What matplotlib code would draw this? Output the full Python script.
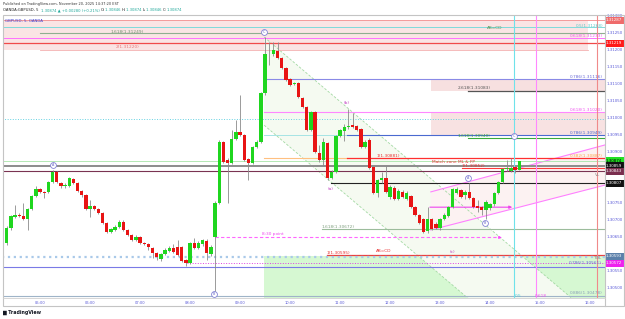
import matplotlib
matplotlib.use("Agg")
import numpy as np
import matplotlib.pyplot as plt
import matplotlib.transforms as mtransforms
from matplotlib.patches import Rectangle, Polygon

# GBPUSD 5 minute bars, 04:15 .. 14:35 (bar index 0 = 04:15)
opens = [1.30635, 1.30632, 1.30676, 1.30708, 1.30714, 1.30711, 1.30702, 1.30732, 1.30770, 1.30790,
         1.30782, 1.30782, 1.30811, 1.30840, 1.30808, 1.30799, 1.30799, 1.30820, 1.30808, 1.30784,
         1.30773, 1.30732, 1.30740, 1.30732, 1.30720, 1.30690, 1.30664, 1.30670, 1.30679, 1.30693,
         1.30670, 1.30655, 1.30640, 1.30649, 1.30632, 1.30629, 1.30617, 1.30602, 1.30585, 1.30599,
         1.30608, 1.30617, 1.30620, 1.30620, 1.30582, 1.30573, 1.30632, 1.30617, 1.30629, 1.30637,
         1.30599, 1.30648, 1.30749, 1.30929, 1.30876, 1.30867, 1.30937, 1.30958, 1.30949, 1.30879,
         1.30867, 1.30914, 1.30929, 1.31073, 1.31187, 1.31187, 1.31196, 1.31176, 1.31146, 1.31114,
         1.31099, 1.31102, 1.31058, 1.31031, 1.30964, 1.31017, 1.30896, 1.30876, 1.30926, 1.30823,
         1.30840, 1.30946, 1.30961, 1.30973, 1.30979, 1.30976, 1.30967, 1.30914, 1.30934, 1.30855,
         1.30779, 1.30817, 1.30823, 1.30767, 1.30793, 1.30761, 1.30782, 1.30761, 1.30770, 1.30737,
         1.30714, 1.30702, 1.30667, 1.30702, 1.30687, 1.30676, 1.30702, 1.30711, 1.30737, 1.30779,
         1.30787, 1.30773, 1.30782, 1.30764, 1.30740, 1.30737, 1.30729, 1.30734, 1.30746, 1.30779,
         1.30811, 1.30849, 1.30843, 1.30855, 1.30846]
highs = [1.30641, 1.30682, 1.30714, 1.30743, 1.30720, 1.30749, 1.30735, 1.30773, 1.30799, 1.30793,
         1.30784, 1.30814, 1.30846, 1.30843, 1.30811, 1.30808, 1.30826, 1.30823, 1.30811, 1.30787,
         1.30776, 1.30758, 1.30743, 1.30735, 1.30723, 1.30693, 1.30676, 1.30685, 1.30699, 1.30699,
         1.30673, 1.30658, 1.30655, 1.30652, 1.30635, 1.30632, 1.30620, 1.30605, 1.30602, 1.30617,
         1.30623, 1.30629, 1.30640, 1.30623, 1.30585, 1.30635, 1.30646, 1.30638, 1.30643, 1.30643,
         1.30626, 1.30755, 1.30934, 1.30931, 1.30882, 1.30964, 1.30993, 1.31067, 1.30952, 1.30882,
         1.30917, 1.30934, 1.31076, 1.31237, 1.31223, 1.31223, 1.31223, 1.31178, 1.31149, 1.31117,
         1.31105, 1.31105, 1.31061, 1.31034, 1.31020, 1.31020, 1.30920, 1.30940, 1.30929, 1.30846,
         1.30949, 1.30967, 1.30981, 1.31026, 1.31014, 1.30979, 1.30970, 1.30934, 1.30940, 1.30858,
         1.30820, 1.30840, 1.30858, 1.30802, 1.30799, 1.30790, 1.30787, 1.30784, 1.30773, 1.30740,
         1.30717, 1.30705, 1.30737, 1.30705, 1.30693, 1.30705, 1.30720, 1.30740, 1.30793, 1.30796,
         1.30790, 1.30787, 1.30808, 1.30767, 1.30758, 1.30740, 1.30758, 1.30749, 1.30782, 1.30814,
         1.30852, 1.30876, 1.30882, 1.30858, 1.30874]
lows = [1.30629, 1.30626, 1.30670, 1.30705, 1.30708, 1.30699, 1.30670, 1.30729, 1.30767, 1.30779,
        1.30764, 1.30779, 1.30808, 1.30808, 1.30793, 1.30793, 1.30796, 1.30805, 1.30782, 1.30767,
        1.30729, 1.30708, 1.30729, 1.30717, 1.30687, 1.30661, 1.30661, 1.30667, 1.30676, 1.30667,
        1.30652, 1.30637, 1.30637, 1.30629, 1.30626, 1.30611, 1.30588, 1.30582, 1.30579, 1.30596,
        1.30605, 1.30602, 1.30593, 1.30576, 1.30564, 1.30570, 1.30614, 1.30614, 1.30623, 1.30582,
        1.30593, 1.30485, 1.30746, 1.30867, 1.30749, 1.30864, 1.30934, 1.30946, 1.30873, 1.30817,
        1.30864, 1.30911, 1.30926, 1.31067, 1.31155, 1.31181, 1.31173, 1.31143, 1.31108, 1.31093,
        1.31096, 1.31058, 1.31028, 1.30961, 1.30961, 1.30896, 1.30870, 1.30858, 1.30817, 1.30820,
        1.30837, 1.30943, 1.30931, 1.30967, 1.30970, 1.30961, 1.30911, 1.30911, 1.30849, 1.30776,
        1.30767, 1.30808, 1.30779, 1.30761, 1.30758, 1.30758, 1.30764, 1.30758, 1.30734, 1.30711,
        1.30687, 1.30661, 1.30661, 1.30670, 1.30673, 1.30670, 1.30699, 1.30708, 1.30734, 1.30776,
        1.30764, 1.30761, 1.30761, 1.30734, 1.30723, 1.30714, 1.30702, 1.30729, 1.30740, 1.30776,
        1.30808, 1.30843, 1.30840, 1.30837, 1.30846]
closes = [1.30630, 1.30676, 1.30711, 1.30714, 1.30712, 1.30702, 1.30732, 1.30770, 1.30790, 1.30782,
          1.30779, 1.30811, 1.30840, 1.30811, 1.30799, 1.30801, 1.30823, 1.30808, 1.30784, 1.30773,
          1.30732, 1.30740, 1.30732, 1.30720, 1.30690, 1.30664, 1.30673, 1.30679, 1.30693, 1.30670,
          1.30655, 1.30640, 1.30649, 1.30632, 1.30629, 1.30620, 1.30602, 1.30590, 1.30599, 1.30611,
          1.30617, 1.30605, 1.30596, 1.30579, 1.30573, 1.30632, 1.30617, 1.30632, 1.30640, 1.30602,
          1.30620, 1.30749, 1.30929, 1.30870, 1.30867, 1.30937, 1.30958, 1.30949, 1.30876, 1.30867,
          1.30914, 1.30929, 1.31073, 1.31187, 1.31186, 1.31199, 1.31176, 1.31146, 1.31111, 1.31096,
          1.31102, 1.31061, 1.31031, 1.30964, 1.31017, 1.30899, 1.30876, 1.30929, 1.30823, 1.30840,
          1.30946, 1.30964, 1.30973, 1.30976, 1.30973, 1.30964, 1.30914, 1.30929, 1.30852, 1.30779,
          1.30817, 1.30823, 1.30782, 1.30796, 1.30761, 1.30784, 1.30767, 1.30779, 1.30737, 1.30714,
          1.30690, 1.30664, 1.30702, 1.30673, 1.30676, 1.30702, 1.30714, 1.30737, 1.30790, 1.30790,
          1.30767, 1.30782, 1.30764, 1.30737, 1.30734, 1.30729, 1.30752, 1.30746, 1.30779, 1.30811,
          1.30849, 1.30852, 1.30852, 1.30846, 1.30874]

hour_labels = ["05:00", "06:00", "07:00", "08:00", "09:00", "10:00",
               "11:00", "12:00", "13:00", "14:00", "15:00", "16:00"]
bar_of_0500 = 9
bars_per_hour = 12
price_labels = [1.30500, 1.30550, 1.30650, 1.30700, 1.30750, 1.30900, 1.30950,
                1.31000, 1.31050, 1.31100, 1.31150, 1.31200, 1.31250, 1.31300]

# horizontal levels drawn on the chart: (price, start bar, end bar, colour, style, width)
levels = [
    (1.31287, 0, 145, "#f39a9a", "-", 0.7),
    (1.31266, 0, 145, "#7fdada", "-", 0.7),
    (1.31248, 9, 145, "#8fae8f", "-", 0.8),
    (1.31233, 0, 145, "#ff70ff", "-", 0.7),
    (1.31219, 0, 145, "#f04a4a", "-", 0.9),
    (1.31200, 9, 140.5, "#f4b0b0", "-", 0.6),
    (1.31113, 62.8, 145, "#8a8ae6", "-", 0.8),
    (1.31079, 111.7, 145, "#555555", "-", 0.9),
    (1.31017, 62.8, 145, "#ff88ff", "-", 0.8),
    (1.30995, 0, 145, "#66d2e2", ":", 0.7),
    (1.30949, 62.8, 82.7, "#a6e4e4", "-", 0.7),
    (1.30949, 82.7, 145, "#4a6ad0", "-", 0.8),
    (1.30939, 111.7, 145, "#3aaa3a", "-", 0.8),
    (1.30881, 62.8, 82.7, "#ffc080", "-", 0.8),
    (1.30881, 82.7, 145, "#ff3030", "-", 0.9),
    (1.30874, 0, 145, "#a8e4a8", "-", 0.6),
    (1.30859, 0, 145, "#8c8c8c", "-", 1.4),
    (1.30851, 110.3, 145, "#ff3a3a", "-", 0.8),
    (1.30843, 0, 145, "#7a3352", "-", 0.8),
    (1.30807, 78.8, 145, "#222222", "-", 0.8),
    (1.30673, 76.7, 145, "#9cbc9c", "-", 0.8),
    (1.30596, 77.9, 145, "#e84040", "-", 0.9),
    (1.30592, 0, 145, "#a9c9e9", ":", 1.6),
    (1.30572, 44.3, 145, "#e040e0", ":", 0.7),
    (1.30562, 0, 145, "#7a7ae6", "-", 0.8),
    (1.30476, 0, 145, "#9fb4c8", "-", 0.8),
]
vertical_bars = [(122.8, "#6fe2ea"), (128.0, "#ff88ff"), (142.75, "#f08a8a")]

# shaded zones: (bar0, bar1, price0, price1, colour)
zones = [
    (0, 140.5, 1.31200, 1.31287, "#fae4e4"),
    (102.8, 145, 1.31079, 1.31113, "#f7e0e0"),
    (102.8, 145, 1.30946, 1.31017, "#f8e2e2"),
    (62.8, 145, 1.30440, 1.30593, "#d6f8d2"),
]

# falling channel from point C, rising channel from the (c) low
fall_start = 62.8
fall_upper, fall_lower = 1.31237, 1.30978
fall_slope = -0.000104
rise_x = (102.8, 144.6)
rise_upper = (1.30782, 1.30920)
rise_lower = (1.30670, 1.30802)

W, H = 625, 319
fig = plt.figure(figsize=(W / 100, H / 100), dpi=100)
fig.patch.set_facecolor("white")
ax = fig.add_axes([3 / W, 1 - 298 / H, 602 / W, 283 / H])
ax.set_xlim(0.12, 144.6)
ax.set_ylim(1.30470, 1.31302)
ax.set_facecolor("white")
ax.set_xticks([])
ax.set_yticks([])
for s in ax.spines.values():
    s.set_visible(False)

for x0, x1, p0, p1, col in zones:
    ax.add_patch(Rectangle((x0, p0), x1 - x0, p1 - p0, facecolor=col, edgecolor="none", zorder=0))

# falling channel
xe = 160
fu = [fall_upper, fall_upper + fall_slope * (xe - fall_start)]
fl = [fall_lower, fall_lower + fall_slope * (xe - fall_start)]
ax.add_patch(Polygon([(fall_start, fu[0]), (xe, fu[1]), (xe, fl[1]), (fall_start, fl[0])],
                     closed=True, facecolor="#f5faf1", edgecolor="none", zorder=0.5))
ax.plot([fall_start, xe], fu, color="#a3d9a3", lw=0.6, ls=(0, (3, 2)), zorder=1)
ax.plot([fall_start, xe], fl, color="#a3d9a3", lw=0.6, ls=(0, (3, 2)), zorder=1)

# rising channel
ax.add_patch(Polygon([(rise_x[0], rise_upper[0]), (rise_x[1], rise_upper[1]),
                      (rise_x[1], rise_lower[1]), (rise_x[0], rise_lower[0])],
                     closed=True, facecolor="#fcf2f2", edgecolor="none", zorder=0.6))
ax.plot(rise_x, rise_upper, color="#ff80ff", lw=0.8, zorder=1.5)
ax.plot(rise_x, rise_lower, color="#ff80ff", lw=0.8, zorder=1.5)

for p, x0, x1, col, ls, lw in levels:
    ax.plot([x0, x1], [p, p], color=col, ls=ls, lw=lw, zorder=2)
for xv, col in vertical_bars:
    ax.axvline(xv, color=col, lw=0.8, zorder=2)

# 8:30 point dashed line and magenta arrow
ax.plot([51.0, 119.0], [1.30648, 1.30648], color="#ff66ff", lw=0.8, ls=(0, (3, 2)), zorder=2)
ax.annotate("", xy=(120.5, 1.30648), xytext=(118.5, 1.30648),
            arrowprops=dict(arrowstyle="-|>", color="#ff44ff", lw=0.6, mutation_scale=4), zorder=2)
ax.annotate("", xy=(123.0, 1.30737), xytext=(101.9, 1.30737),
            arrowprops=dict(arrowstyle="-|>", color="#ee44ee", lw=0.8, mutation_scale=4), zorder=2)

# candles
o = np.array(opens)
h = np.array(highs)
l = np.array(lows)
c = np.array(closes)
idx = np.arange(len(o))
up = c >= o
ax.vlines(idx, l, h, color="#8a8a8a", lw=0.6, zorder=3)
body = np.maximum(np.abs(c - o), 0.000025)
ax.bar(idx[up], body[up], bottom=o[up], width=0.8, color="#1fd61f", lw=0, zorder=4)
ax.bar(idx[~up], body[~up], bottom=c[~up], width=0.8, color="#e81414", lw=0, zorder=4)

# wave markers
for lab, x, p in [("A", 12.05, 1.30861), ("A", 111.8, 1.30822), ("B", 50.8, 1.30482),
                  ("B", 115.8, 1.30690), ("C", 62.8, 1.31253), ("C", 122.8, 1.30946)]:
    ax.plot(x, p, "o", ms=4.2, mfc="white", mec="#8383d6", mew=0.6, zorder=6)
    ax.text(x, p, lab, fontsize=2.4, color="#6666c8", ha="center", va="center", zorder=7)

fs = 3.1
labels = [
    ("1.618(1.31249)", 29.8, 1.31252, "#6f8f6f", "center"),
    ("2(1.31220)", 30.1, 1.31207, "#e87878", "center"),
    ("AB=CD", 118.2, 1.31263, "#5a9a5a", "center"),
    ("0.5(1.31268)", 144.1, 1.31270, "#5cc8c8", "right"),
    ("0.618(1.31233)", 144.1, 1.31240, "#ee55ee", "right"),
    ("0.786(1.31116)", 144.1, 1.31121, "#6a6ad6", "right"),
    ("2.618(1.31083)", 113.2, 1.31088, "#555555", "center"),
    ("0.618(1.31020)", 144.1, 1.31023, "#ee55ee", "right"),
    ("0.786(1.30949)", 144.1, 1.30955, "#4a6ad0", "right"),
    ("1.618(1.30940)", 113.2, 1.30947, "#3aaa3a", "center"),
    ("(b)", 82.7, 1.31043, "#c040c0", "center"),
    ("0.382(1.30887)", 144.1, 1.30888, "#ffa64d", "right"),
    ("1(1.30881)", 92.5, 1.30887, "#e83030", "center"),
    ("Match zone ML & FP", 103.1, 1.30870, "#e83030", "left"),
    ("1(1.30852)", 112.9, 1.30857, "#e83030", "center"),
    ("VL", 142.9, 1.30831, "#888888", "center"),
    ("(a)", 78.8, 1.30790, "#c040c0", "center"),
    ("1.618(1.30672)", 80.5, 1.30679, "#7f9f7f", "center"),
    ("8:30 point", 64.9, 1.30658, "#ee44ee", "center"),
    ("AB=CD", 91.6, 1.30609, "#e83030", "center"),
    ("1(1.30595)", 80.5, 1.30603, "#e83030", "center"),
    ("(c)", 107.9, 1.30606, "#c040c0", "center"),
    ("TGL", 142.9, 1.30587, "#888888", "center"),
    ("0.786(1.30561)", 143.9, 1.30574, "#6a6ad6", "right"),
    ("0.886(1.30478)", 143.9, 1.30484, "#8aa0b8", "right"),
    ("0.5", 123.7, 1.30477, "#55c8d8", "center"),
    ("0.618", 129.2, 1.30477, "#ee55ee", "center"),
]
for t, x, p, col, ha in labels:
    ax.text(x, p, t, fontsize=fs, color=col, ha=ha, va="center", zorder=8)

ax.text(2 / 602, 1 - 5.7 / 283, "GBPUSD, 5, OANDA", transform=ax.transAxes,
        fontsize=2.8, color="#3b3bd0", ha="left", va="center", zorder=8)

# price scale
tr_y = mtransforms.blended_transform_factory(fig.transFigure, ax.transData)
for p in price_labels:
    ax.text(607 / W, p, f"{p:.5f}", transform=tr_y, fontsize=2.9, color="#5a5ad8",
            ha="left", va="center", clip_on=False)
boxes = [(1.31287, "#ef6b6b", "white"), (1.31219, "#ff1a1a", "white"),
         (1.30874, "#22e022", "black"), (1.30859, "#111111", "white"),
         (1.30843, "#7a2e4e", "white"), (1.30807, "#111111", "white"),
         (1.30593, "#5b80aa", "white"), (1.30572, "#ee22ee", "white")]
for p, bg, fg in boxes:
    ax.text(606 / W, p, f"{p:.5f}", transform=tr_y, fontsize=2.9, color=fg, ha="left", va="center",
            clip_on=False, zorder=10,
            bbox=dict(boxstyle="square,pad=0.35", facecolor=bg, edgecolor="none"))

# time scale
tr_x = mtransforms.blended_transform_factory(ax.transData, fig.transFigure)
for k, lab in enumerate(hour_labels):
    ax.text(bar_of_0500 + k * bars_per_hour, 1 - 302.5 / H, lab, transform=tr_x, fontsize=2.6,
            color="#5a5ad8", ha="center", va="center", clip_on=False)

# frame
fig.add_artist(Rectangle((3 / W, 1 - 306 / H), 621 / W, 291 / H, transform=fig.transFigure,
                         facecolor="none", edgecolor="#c4c4c4", lw=0.8))
fig.add_artist(plt.Line2D([605 / W, 605 / W], [1 - 306 / H, 1 - 15 / H], transform=fig.transFigure,
                          color="#c4c4c4", lw=0.8))
fig.add_artist(plt.Line2D([3 / W, 605 / W], [1 - 298 / H, 1 - 298 / H], transform=fig.transFigure,
                          color="#d0d0d0", lw=0.6))

# header lines
fig.text(3 / W, 1 - 3.8 / H, "Published on TradingView.com, November 20, 2025 14:37:20 EST",
         fontsize=2.5, color="#333333", ha="left", va="center")
renderer = fig.canvas.get_renderer()
teal = "#1fa89a"
parts = [("OANDA:GBPUSD, 5  ", "#222222"), ("1.30874 \u25b2 +0.00280 (+0.21%) ", teal),
         ("O:", "#222222"), ("1.30846 ", teal), ("H:", "#222222"), ("1.30874 ", teal),
         ("L:", "#222222"), ("1.30846 ", teal), ("C:", "#222222"), ("1.30874", teal)]
xpos = 3 / W
for s, col in parts:
    t = fig.text(xpos, 1 - 10 / H, s, fontsize=2.7, color=col, ha="left", va="center")
    xpos += t.get_window_extent(renderer).width / W

fig.text(3 / W, 1 - 312.5 / H, "\u2587 TradingView", fontsize=3.4, color="#131722",
         ha="left", va="center", fontweight="bold")

fig.savefig("out.png", dpi=100, facecolor="white")
